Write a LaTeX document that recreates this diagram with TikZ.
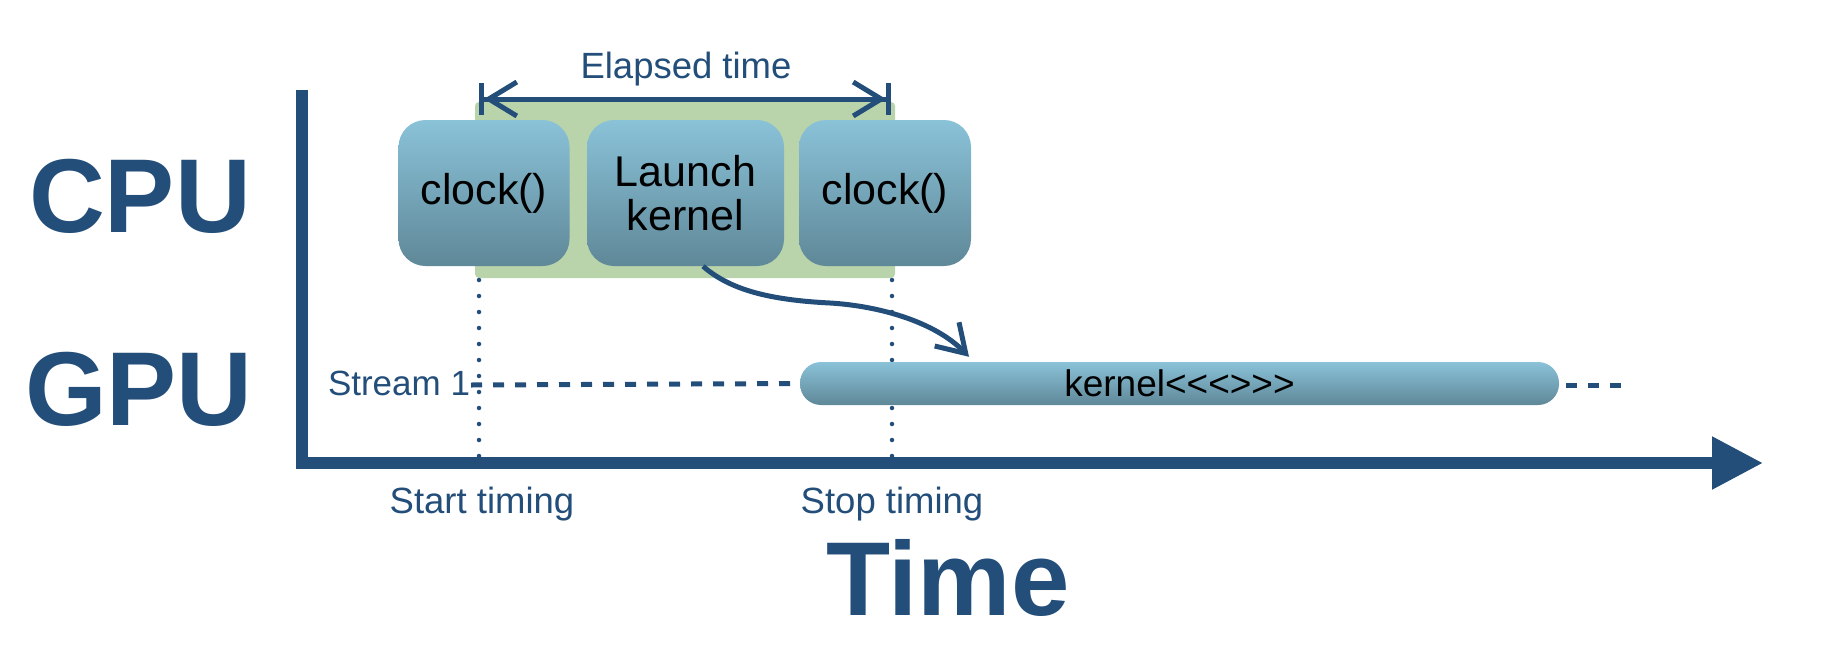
\documentclass[tikz,border=0pt]{standalone}
\usepackage{fontspec}
\setmainfont{Liberation Sans}
\usetikzlibrary{arrows.meta}
\definecolor{navy}{RGB}{35,78,122}
\definecolor{lgreen}{RGB}{185,212,170}
\definecolor{btop}{RGB}{138,194,216}
\definecolor{bbot}{RGB}{95,136,152}
\begin{document}
\begin{tikzpicture}[x=1pt,y=-1pt,
  bigtxt/.style={text=navy, font=\fontsize{105}{105}\selectfont\bfseries, anchor=base, inner sep=0pt},
  midtxt/.style={text=navy, font=\fontsize{36.5}{40}\selectfont, anchor=base, inner sep=0pt},
  cpubox/.style={rounded corners=27pt, top color=btop, bottom color=bbot, draw=none,
    minimum height=146pt, inner sep=0pt, align=center, text=black,
    font=\fontsize{43}{44}\selectfont},
  kbar/.style={rounded corners=21pt, top color=btop, bottom color=bbot, draw=none,
    minimum height=43pt, minimum width=759pt, inner sep=0pt, text=black,
    font=\fontsize{37}{40}\selectfont},
  dotline/.style={navy, line width=4.5pt, line cap=round, dash pattern=on 0pt off 16pt},
  streamdash/.style={navy, line width=5pt, dash pattern=on 11pt off 11pt},
]
\useasboundingbox (0,0) rectangle (1822,664);

% green elapsed region
\fill[lgreen, rounded corners=4pt] (475,102) rectangle (895,278);

% dotted timing lines
\coordinate (d1t) at (479,280);
\coordinate (d1b) at (479,460);
\coordinate (d2t) at (892,280);
\coordinate (d2b) at (892,460);
\draw[dotline] (d1t) -- (d1b);
\draw[dotline] (d2t) -- (d2b);

% axes
\coordinate (ytop) at (302,90);
\coordinate (orig) at (302,463);
\coordinate (xend) at (1763,463);
\draw[navy, line width=11.5pt, line join=miter, -{Triangle[length=51pt,width=50pt]}] (ytop) -- (orig) -- (xend);

% labels
\node[bigtxt] (cpu) at (140,232) {CPU};
\node[bigtxt] (gpu) at (139,425) {GPU};
\node[bigtxt] (time) at (948,615) {Time};
\node[midtxt] (elapsed) at (686,78) {Elapsed time};
\node[midtxt] (start) at (482,513) {Start timing};
\node[midtxt] (stop) at (892,513) {Stop timing};
\node[text=navy, font=\fontsize{35}{38}\selectfont, inner sep=0pt] (stream) at (399,383) {Stream 1};

% CPU boxes
\node[cpubox, minimum width=171pt] (c1) at (484,193) {clock()};
\node[cpubox, minimum width=197pt] (lk) at (685.5,193) {Launch\\kernel};
\node[cpubox, minimum width=172pt] (c2) at (885,193) {clock()};

% elapsed arrow
\coordinate (eL) at (479,99);
\coordinate (eR) at (891,99);
\draw[navy, line width=5pt,
  {Bar[width=32pt]Straight Barb[length=28pt,width=34pt]}-{Straight Barb[length=28pt,width=34pt]Bar[width=32pt]}]
  (eL) -- (eR);

% stream line and kernel bar
\node[kbar] (kb) at (1179.5,383.5) {kernel<{}<{}<{}>{}>{}>};
\coordinate (sd1) at (471,385);
\coordinate (sd2) at (1566,385);
\coordinate (sd3) at (1622,385);
\draw[streamdash] (sd1) -- (kb.west);
\draw[streamdash] (sd2) -- (sd3);

% launch arrow
\draw[navy, line width=5pt, -{Straight Barb[length=27pt,width=34pt]}]
  ([xshift=17.5pt]lk.south) .. controls (730,290) and (770,300) .. (830,303)
  .. controls (880,306) and (935,322) .. ([xshift=-210.5pt,yshift=5pt]kb.north);
\end{tikzpicture}
\end{document}
